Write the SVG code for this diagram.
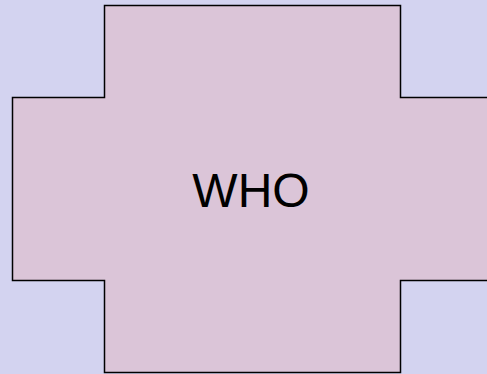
<svg xmlns="http://www.w3.org/2000/svg" width="487" height="374" viewBox="0 0 487 374">
<style>
.bg{fill:#d3d3f0}
.cross{fill:#dbc5d8;stroke:#000;stroke-width:1.5}
.lbl{font-family:"Liberation Sans",Arial,sans-serif;font-size:48px;fill:#000;text-anchor:middle}
</style>
<rect class="bg" x="0" y="0" width="487" height="374"/>
<g id="who">
<path class="cross" d="M104.5,5.5 H400.5 V97.5 H490 V280.5 H400.5 V372.5 H104.5 V280.5 H12.5 V97.5 H104.5 Z"/>
<text class="lbl" x="251" y="207">WHO</text>
</g>
<g id="connectors"/>
</svg>
